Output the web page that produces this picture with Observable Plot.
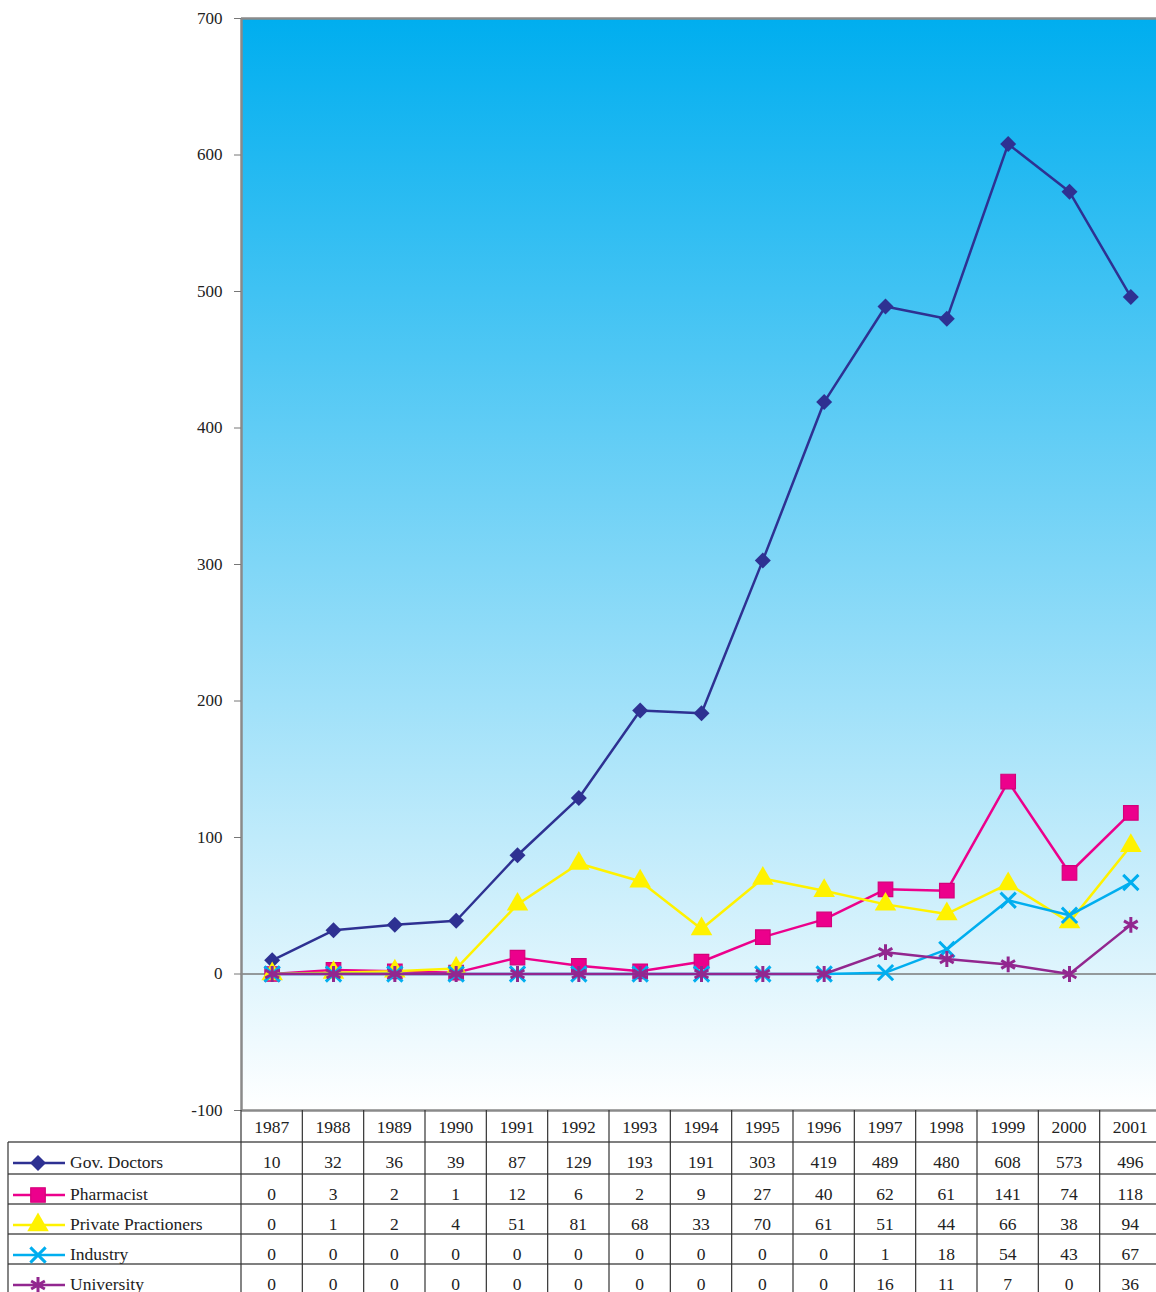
<!DOCTYPE html>
<html>
<head>
<meta charset="utf-8">
<script src="https://cdn.jsdelivr.net/npm/d3@7"></script>
<script src="https://cdn.jsdelivr.net/npm/@observablehq/plot@0.6"></script>
<style>
  html, body { margin: 0; padding: 0; background: #fff; overflow: hidden; }
  #wrap { position: relative; width: 1156px; height: 1292px; }
  #wrap svg { position: absolute; left: 0; overflow: visible; }
</style>
</head>
<body>
<div id="wrap"></div>
<script>
const years = [1987, 1988, 1989, 1990, 1991, 1992, 1993, 1994, 1995, 1996, 1997, 1998, 1999, 2000, 2001];
const govDoctors = [10, 32, 36, 39, 87, 129, 193, 191, 303, 419, 489, 480, 608, 573, 496];
const pharmacist = [0, 3, 2, 1, 12, 6, 2, 9, 27, 40, 62, 61, 141, 74, 118];
const privatePractioners = [0, 1, 2, 4, 51, 81, 68, 33, 70, 61, 51, 44, 66, 38, 94];
const industry = [0, 0, 0, 0, 0, 0, 0, 0, 0, 0, 1, 18, 54, 43, 67];
const university = [0, 0, 0, 0, 0, 0, 0, 0, 0, 0, 16, 11, 7, 0, 36];
const seriesNames = ["Gov. Doctors", "Pharmacist", "Private Practioners", "Industry", "University"];
const seriesValues = [govDoctors, pharmacist, privatePractioners, industry, university];
const yTicks = [-100, 0, 100, 200, 300, 400, 500, 600, 700];

const colors = ["#2E3192", "#EC008C", "#FFF200", "#00AEEF", "#92278F"];
const symbols = ["diamond2", "square", "triangle", "times", "asterisk"];
const d3symbols = [d3.symbolDiamond2, d3.symbolSquare, d3.symbolTriangle, d3.symbolTimes, d3.symbolAsterisk];
const filled = [true, true, true, false, false];
const radii = [7.2, 8.2, 8, 7, 7.5];

const font = "'Liberation Serif', 'Times New Roman', serif";

const marks = [
  Plot.frame({fill: "url(#bgGrad)"}),
  Plot.ruleY([0], {stroke: "#7a7a7a", strokeWidth: 1.6}),
  Plot.ruleY([yTicks[0], yTicks[yTicks.length - 1]], {stroke: "#8a8a8a", strokeWidth: 2.5}),
  Plot.ruleX([years[0] - 0.5], {stroke: "#8a8a8a", strokeWidth: 2.5}),
  Plot.axisY(yTicks, {tickSize: 7, tickPadding: 12, stroke: "#777", fontSize: 17, fill: "#222",
    tickFormat: d => String(d), label: null})
];

seriesNames.forEach((name, i) => {
  const data = years.map((y, j) => ({year: y, value: seriesValues[i][j]}));
  marks.push(Plot.line(data, {x: "year", y: "value", stroke: colors[i], strokeWidth: 2.5}));
  marks.push(Plot.dot(data, {
    x: "year", y: "value", symbol: () => symbols[i], r: radii[i],
    fill: filled[i] ? colors[i] : "none",
    stroke: i === 1 ? "#D4007A" : colors[i],
    strokeWidth: filled[i] ? (i === 1 ? 1.2 : 0) : 3
  }));
});

const chart = Plot.plot({
  width: 1156,
  height: 1120,
  marginLeft: 241,
  marginRight: 0,
  marginTop: 18,
  marginBottom: 10,
  x: {domain: [years[0] - 0.5, years[years.length - 1] + 0.5], range: [241, 1161], axis: null},
  y: {domain: [-100, 700], range: [1110, 18], axis: null},
  symbol: {type: "identity"},
  style: {fontFamily: font, fontSize: "17px", color: "#222", background: "transparent", overflow: "visible"},
  marks
});

const defs = d3.select(chart).insert("defs", ":first-child");
const grad = defs.append("linearGradient").attr("id", "bgGrad")
  .attr("x1", 0).attr("y1", 0).attr("x2", 0).attr("y2", 1);
grad.append("stop").attr("offset", "0%").attr("stop-color", "#00AEEF");
grad.append("stop").attr("offset", "100%").attr("stop-color", "#FFFFFF");

chart.style.top = "0px";
document.getElementById("wrap").appendChild(chart);

// Data table under the chart
const xs = chart.scale("x");
const xScale = d3.scaleLinear().domain(xs.domain).range(xs.range);
const tbl = d3.create("svg").attr("width", 1156).attr("height", 182)
  .style("top", "1110px")
  .attr("font-family", font).attr("font-size", 17.5).attr("fill", "#222");

const rowTops = [32, 64, 94, 124, 154];
rowTops.forEach(t => {
  tbl.append("line").attr("x1", 8).attr("x2", 1156).attr("y1", t).attr("y2", t)
    .attr("stroke", "#555").attr("stroke-width", 1.5);
});
d3.range(years.length + 1).forEach(i => {
  const bx = xScale(years[0] - 0.5 + i);
  tbl.append("line").attr("x1", bx).attr("x2", bx).attr("y1", 0).attr("y2", 182)
    .attr("stroke", "#333").attr("stroke-width", 1.2);
});
tbl.append("line").attr("x1", 8).attr("x2", 8).attr("y1", 32).attr("y2", 182)
  .attr("stroke", "#333").attr("stroke-width", 1.2);

years.forEach(y => {
  tbl.append("text").attr("x", xScale(y)).attr("y", 23).attr("text-anchor", "middle").text(y);
});
seriesNames.forEach((name, i) => {
  const top = rowTops[i];
  const base = top + 26;
  const mid = top + 21;
  tbl.append("line").attr("x1", 13).attr("x2", 65).attr("y1", mid).attr("y2", mid)
    .attr("stroke", colors[i]).attr("stroke-width", 2.5);
  const size = Math.PI * radii[i] * radii[i];
  tbl.append("path").attr("transform", `translate(38,${mid})`)
    .attr("d", d3.symbol(d3symbols[i], size)())
    .attr("fill", filled[i] ? colors[i] : "none")
    .attr("stroke", i === 1 ? "#D4007A" : colors[i])
    .attr("stroke-width", filled[i] ? (i === 1 ? 1.2 : 0) : 3);
  tbl.append("text").attr("x", 70).attr("y", base).text(name);
  years.forEach((y, j) => {
    tbl.append("text").attr("x", xScale(y)).attr("y", base).attr("text-anchor", "middle")
      .text(seriesValues[i][j]);
  });
});
document.getElementById("wrap").appendChild(tbl.node());
</script>
</body>
</html>
